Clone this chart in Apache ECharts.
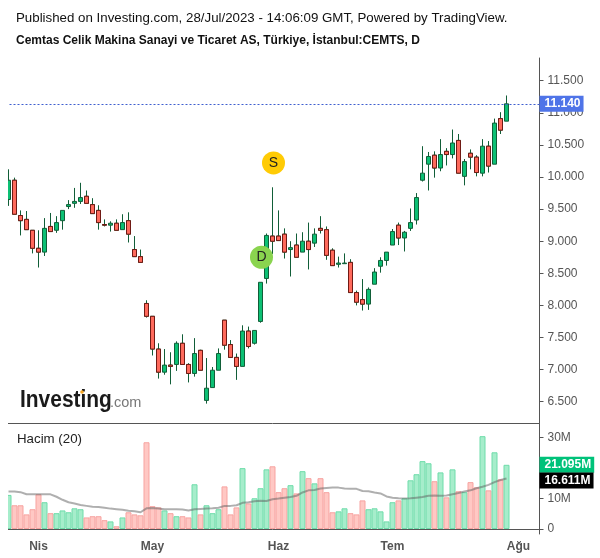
<!DOCTYPE html>
<html><head><meta charset="utf-8">
<style>html,body{margin:0;padding:0;background:#fff}#c{width:600px;height:558px}</style>
<script src="https://cdn.jsdelivr.net/npm/echarts@6/dist/echarts.min.js"></script>
</head><body><div id="c"></div>
<script>
const opens =[9.65,9.95,9.40,9.34,9.17,8.89,8.83,9.23,9.17,9.32,9.54,9.59,9.62,9.70,9.57,9.48,9.26,9.25,9.28,9.18,9.32,8.87,8.76,8.03,7.83,7.32,6.96,7.07,7.08,7.41,7.08,6.94,7.30,6.52,6.72,6.99,7.77,7.39,7.19,7.05,7.60,7.41,7.75,8.42,9.08,9.08,9.11,8.87,8.94,8.83,9.00,8.97,9.20,9.18,8.86,8.64,8.65,8.67,8.20,8.09,8.02,8.33,8.61,8.70,8.94,9.25,9.05,9.20,9.33,9.95,10.20,10.34,10.14,10.40,10.35,10.57,10.01,10.37,10.31,10.06,10.48,10.20,10.91,10.87];
const closes=[9.95,9.42,9.32,9.18,8.89,8.83,9.20,9.15,9.29,9.48,9.57,9.62,9.68,9.59,9.43,9.29,9.25,9.28,9.17,9.29,9.11,8.76,8.67,7.83,7.32,6.96,7.07,7.05,7.41,7.08,6.94,7.25,6.99,6.71,6.99,7.25,7.38,7.19,7.05,7.60,7.36,7.61,8.36,9.09,9.00,9.01,8.83,8.90,8.75,9.00,8.87,9.11,9.17,8.78,8.62,8.66,8.66,8.20,8.05,8.02,8.25,8.52,8.70,8.83,9.15,9.05,9.14,9.29,9.68,10.06,10.32,10.14,10.35,10.35,10.53,10.06,10.24,10.31,10.07,10.48,10.17,10.84,10.73,11.14];
const lows  =[9.55,9.42,9.09,9.18,8.81,8.59,8.77,9.15,9.13,9.18,9.50,9.52,9.58,9.59,9.43,9.18,9.23,9.15,9.17,9.18,8.98,8.76,8.67,7.81,7.22,6.86,6.92,6.77,6.98,7.08,6.80,6.89,6.99,6.47,6.72,6.99,7.31,7.18,6.84,7.05,7.33,7.39,7.73,8.34,8.80,9.01,8.73,8.45,8.75,8.83,8.56,8.91,9.12,8.71,8.62,8.59,8.65,8.20,8.00,7.92,7.93,8.33,8.51,8.62,8.94,8.94,8.84,9.16,9.26,9.93,9.79,9.99,10.09,10.18,10.29,10.06,9.87,10.12,10.01,10.01,10.07,10.20,10.67,10.87];
const highs =[10.12,9.99,9.48,9.47,9.17,9.17,9.36,9.44,9.39,9.48,9.64,9.83,9.91,9.79,9.67,9.56,9.34,9.31,9.34,9.42,9.45,9.08,8.87,8.08,7.83,7.41,7.32,7.27,7.44,7.55,7.10,7.49,7.31,7.18,7.04,7.33,7.77,7.46,7.25,7.69,7.67,7.61,8.36,9.12,9.84,9.48,9.20,9.00,9.12,9.14,9.29,9.20,9.39,9.23,8.89,8.76,8.81,8.72,8.23,8.41,8.28,8.58,8.75,8.83,9.19,9.29,9.16,9.51,9.75,10.48,10.39,10.40,10.59,10.45,10.74,10.67,10.28,10.43,10.34,10.59,10.56,10.91,11.01,11.27];
const volumes=[11.2,7.8,7.8,4.8,6.5,11.4,8.8,5.2,5.2,6.1,5.5,6.8,6.5,3.8,4.2,4.2,2.9,2.5,0.9,3.8,5.5,4.8,4.5,28.5,7.5,7.1,6.1,5.2,4.2,4.2,3.8,14.7,4.8,7.8,5.2,6.5,14.0,4.8,7.1,20.0,8.4,10.1,13.4,19.6,20.6,12.1,13.4,14.4,11.7,19.0,16.7,15.0,16.7,12.1,5.5,5.8,6.8,5.2,4.8,9.4,6.5,6.8,5.8,2.5,8.8,9.4,10.1,16.0,18.0,22.3,21.6,15.7,18.6,10.4,19.6,12.4,12.1,15.4,13.7,30.5,12.7,25.2,16.3,21.095];
const volumeMA=[12.3,12.3,12.1,11.4,11.4,11.4,11.4,11.4,10.6,9.6,8.8,8.4,7.9,7.6,7.3,7.2,7.0,6.7,6.5,6.3,6.0,5.8,5.5,6.8,6.9,6.7,6.5,6.5,6.5,6.4,6.1,6.5,6.6,6.7,6.8,7.0,7.6,7.6,7.8,8.6,8.8,9.1,9.3,9.2,9.8,10.0,10.3,10.5,10.9,12.0,12.7,12.8,13.3,13.5,13.6,13.6,13.3,13.2,13.2,12.5,12.4,12.0,11.7,10.7,10.3,10.1,10.0,10.1,10.3,10.5,10.9,11.0,10.9,11.0,11.4,11.8,12.3,12.7,13.4,13.9,14.5,15.4,16.1,16.611];
const monthTicks={5:'Nis',24:'May',45:'Haz',64:'Tem',85:'Ağu'};
const priceTicks=[6.5,7,7.5,8,8.5,9,9.5,10,10.5,11,11.5];
const volumeTicks=[0,10,20,30];
const signals=[{i:44,p:10.22,t:'S',c:'#ffcb05'},{i:42,p:8.75,t:'D',c:'#8ad44f'}];
const lastPrice=11.14, lastVolume=21.095, lastMA=16.611;
const categories=Array.from({length:89},(_,i)=>String(i));

const isUp=i=>closes[i]>=opens[i];
const ohlc=opens.map((o,i)=>[o,closes[i],lows[i],highs[i]]);
const redBodies=opens.map((o,i)=>isUp(i)?'-':[o,closes[i],closes[i],o]);
const GREEN='#0cc074',RED='#ff6a5c',WICK='#115e38',REDB='#701a14';
const font='"Liberation Sans",Arial,sans-serif';

const chart=echarts.init(document.getElementById('c'),null,{renderer:'canvas'});
const tag=(bg)=>({show:true,position:'end',distance:0,backgroundColor:bg,color:'#fff',fontFamily:font,fontSize:12,fontWeight:'bold',padding:[2,3,2,5],height:12,lineHeight:12});
chart.setOption({
 animation:false,
 backgroundColor:'#fff',
 title:[
  {text:'Published on Investing.com, 28/Jul/2023 - 14:06:09 GMT, Powered by TradingView.',left:11,top:7,textStyle:{fontFamily:font,fontSize:13.3,fontWeight:'normal',color:'#111'}},
  {text:'Cemtas Celik Makina Sanayi ve Ticaret AS, Türkiye, İstanbul:CEMTS, D',left:11,top:30,textStyle:{fontFamily:font,fontSize:12,fontWeight:'bold',color:'#111'}}
 ],
 grid:[{left:5.5,width:534,top:58,height:365},{left:5.5,width:534,top:424,height:110}],
 xAxis:[
  {type:'category',gridIndex:0,data:categories,boundaryGap:true,axisTick:{show:false},axisLabel:{show:false},axisLine:{lineStyle:{color:'#555',width:1}}},
  {type:'category',gridIndex:1,data:categories,boundaryGap:true,
   axisLine:{lineStyle:{color:'#555',width:1}},
   axisTick:{alignWithLabel:true,length:4,lineStyle:{color:'#555'},interval:i=>i in monthTicks},
   axisLabel:{interval:i=>i in monthTicks,formatter:(v,i)=>monthTicks[i]||'',color:'#555',fontFamily:font,fontSize:12,fontWeight:'bold',margin:7}}
 ],
 yAxis:[
  {type:'value',gridIndex:0,position:'right',min:6.168,max:11.854,splitLine:{show:false},
   axisLine:{show:true,lineStyle:{color:'#555'}},
   axisTick:{show:true,length:4,customValues:priceTicks,lineStyle:{color:'#555'}},
   axisLabel:{customValues:priceTicks,margin:8,padding:[2,0,0,0],formatter:v=>v.toFixed(3),color:'#555',fontFamily:font,fontSize:12}},
  {type:'value',gridIndex:1,position:'right',min:-1.64,max:34.5,splitLine:{show:false},
   axisLine:{show:true,lineStyle:{color:'#555'}},
   axisTick:{show:true,length:4,customValues:volumeTicks,lineStyle:{color:'#555'}},
   axisLabel:{customValues:volumeTicks,margin:8,padding:[2,0,0,0],formatter:v=>v===0?'0':v+'M',color:'#555',fontFamily:font,fontSize:12}}
 ],
 series:[
  {name:'candles',type:'candlestick',xAxisIndex:0,yAxisIndex:0,data:ohlc,barWidth:5,
   itemStyle:{color:GREEN,color0:RED,borderColor:WICK,borderColor0:WICK,borderWidth:1},
   markLine:{silent:true,symbol:'none',animation:false,
    data:[{yAxis:lastPrice}],
    lineStyle:{color:'#3f5fcf',type:[2,2],width:1},
    label:Object.assign(tag('#4f74e8'),{formatter:()=>lastPrice.toFixed(3)})}},
  {name:'red bodies',type:'candlestick',xAxisIndex:0,yAxisIndex:0,data:redBodies,barWidth:5,
   itemStyle:{color:GREEN,color0:RED,borderColor:REDB,borderColor0:REDB,borderWidth:1}},
  {name:'signals',type:'scatter',xAxisIndex:0,yAxisIndex:0,symbolSize:23,symbolOffset:[1,0],z:5,
   data:signals.map(s=>({value:[s.i,s.p],itemStyle:{color:s.c,opacity:1},label:{show:true,position:'inside',formatter:s.t,color:'#222',fontFamily:font,fontSize:14}}))},
  {name:'Hacim',type:'bar',xAxisIndex:1,yAxisIndex:1,barWidth:6,
   data:volumes.map((v,i)=>({value:v,itemStyle:{color:isUp(i)?'#a6edcb':'#ffc8c4',borderColor:isUp(i)?'#6edcaa':'#f7a3a0',borderWidth:1}})),
   markLine:{silent:true,symbol:'none',animation:false,
    lineStyle:{color:'transparent',width:1},
    data:[
     {yAxis:lastVolume,label:Object.assign(tag('#00c27a'),{formatter:()=>lastVolume.toFixed(3)+'M'})},
     {yAxis:lastMA,label:Object.assign(tag('#000'),{offset:[0,2],formatter:()=>lastMA.toFixed(3)+'M'})}
    ]}},
  {name:'MA20',type:'line',xAxisIndex:1,yAxisIndex:1,data:volumeMA,symbol:'none',z:4,
   lineStyle:{color:'rgba(95,95,95,0.5)',width:2}}
 ],
 graphic:[
  {type:'rect',z:100,shape:{x:0,y:50,width:8,height:500},style:{fill:'#fff'}},
  {type:'text',z:101,left:17,top:433,style:{text:'Hacim (20)',font:'13.3px '+font,fill:'#222'}},
  {type:'text',z:101,x:20,y:389,scaleX:0.91,style:{text:'Investing',font:'bold 23px '+font,fill:'#1a1a1a'}},
  {type:'text',z:101,left:110,top:395,style:{text:'.com',font:'14.5px '+font,fill:'#777'}},
  {type:'circle',z:102,shape:{cx:82,cy:392,r:1.8},style:{fill:'#f5a623'}}
 ]
});
</script></body></html>
